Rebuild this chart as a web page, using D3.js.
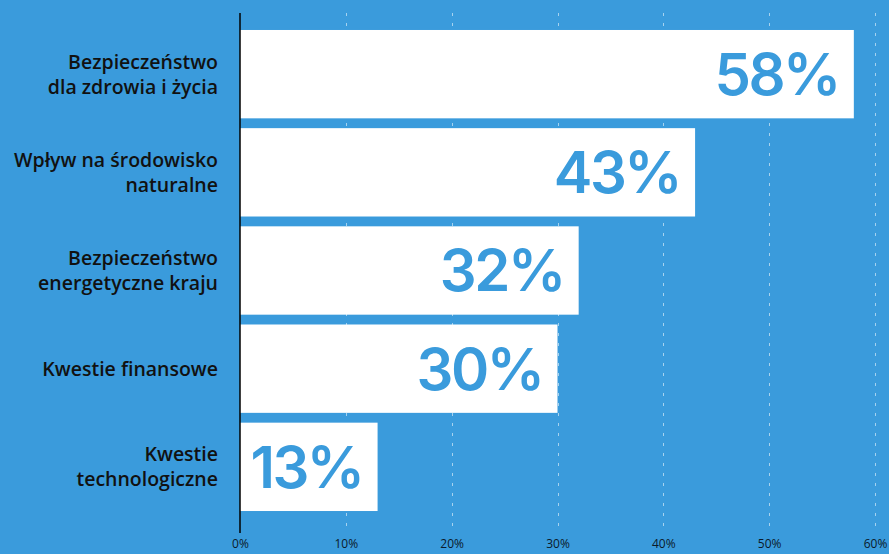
<!DOCTYPE html>
<html>
<head>
<meta charset="utf-8">
<script src="https://cdn.jsdelivr.net/npm/d3@7"></script>
<style>
  html, body { margin: 0; padding: 0; background: #3a9bdc; }
  svg { display: block; }
</style>
</head>
<body>
<svg id="chart" width="889" height="554"></svg>
<script>
// Survey answers: share of respondents pointing at each concern
const categories = [
  ["Bezpieczeństwo", "dla zdrowia i życia"],
  ["Wpływ na środowisko", "naturalne"],
  ["Bezpieczeństwo", "energetyczne kraju"],
  ["Kwestie finansowe"],
  ["Kwestie", "technologiczne"]
];
const values = [58, 43, 32, 30, 13];
const tickValues = [0, 10, 20, 30, 40, 50, 60];

const W = 889, H = 554;
const bg = "#3a9bdc";
const svg = d3.select("#chart");

svg.append("rect").attr("width", W).attr("height", H).attr("fill", bg);

const x = d3.scaleLinear().domain([0, 60]).range([240, 875]);
const y = d3.scaleBand()
  .domain(d3.range(values.length))
  .range([13, 528])
  .paddingInner(0.1)
  .paddingOuter(0.173);

// dashed vertical gridlines
svg.append("g")
  .selectAll("line")
  .data(tickValues.filter(d => d > 0))
  .join("line")
  .attr("x1", d => Math.round(x(d)) + 0.5)
  .attr("x2", d => Math.round(x(d)) + 0.5)
  .attr("y1", 13)
  .attr("y2", 533)
  .attr("stroke", "#ffffff")
  .attr("stroke-opacity", 0.55)
  .attr("stroke-width", 1)
  .attr("stroke-dasharray", "3,7");

// bars
svg.append("g")
  .selectAll("rect")
  .data(values)
  .join("rect")
  .attr("x", x(0))
  .attr("y", (d, i) => y(i))
  .attr("width", d => x(d) - x(0))
  .attr("height", y.bandwidth())
  .attr("fill", "#ffffff");

// value labels inside the bars
svg.append("g")
  .selectAll("text")
  .data(values)
  .join("text")
  .attr("x", d => x(d) - 15)
  .attr("y", (d, i) => y(i) + y.bandwidth() / 2)
  .attr("dy", "0.36em")
  .attr("text-anchor", "end")
  .attr("font-family", "Inter, 'Open Sans', sans-serif")
  .attr("font-weight", 600)
  .attr("font-size", 58)
  .attr("letter-spacing", -2.5)
  .attr("fill", bg)
  .text(d => d + "%");

// category labels
const labels = svg.append("g")
  .selectAll("text")
  .data(categories)
  .join("text")
  .attr("text-anchor", "end")
  .attr("font-family", "'Open Sans', sans-serif")
  .attr("font-weight", 600)
  .attr("font-size", 19.5)
  .attr("fill", "#111111");

labels.each(function(lines, i) {
  const cy = y(i) + y.bandwidth() / 2;
  const lh = 25;
  const top = cy - (lines.length - 1) * lh / 2;
  d3.select(this).selectAll("tspan")
    .data(lines)
    .join("tspan")
    .attr("x", 218)
    .attr("y", (d, k) => top + k * lh)
    .attr("dy", "0.36em")
    .text(d => d);
});

// bottom axis tick labels
const axis = svg.append("g")
  .attr("transform", "translate(0,533)")
  .call(d3.axisBottom(x).tickValues(tickValues).tickFormat(d => d + "%").tickSize(0).tickPadding(6));
axis.select(".domain").remove();
axis.selectAll("text")
  .attr("font-family", "'Open Sans', sans-serif")
  .attr("font-size", 12)
  .attr("fill", "#0b1a2a");

// vertical axis line
svg.append("line")
  .attr("x1", x(0)).attr("x2", x(0))
  .attr("y1", 13).attr("y2", 533)
  .attr("stroke", "#000000")
  .attr("stroke-width", 1.5);
</script>
</body>
</html>
